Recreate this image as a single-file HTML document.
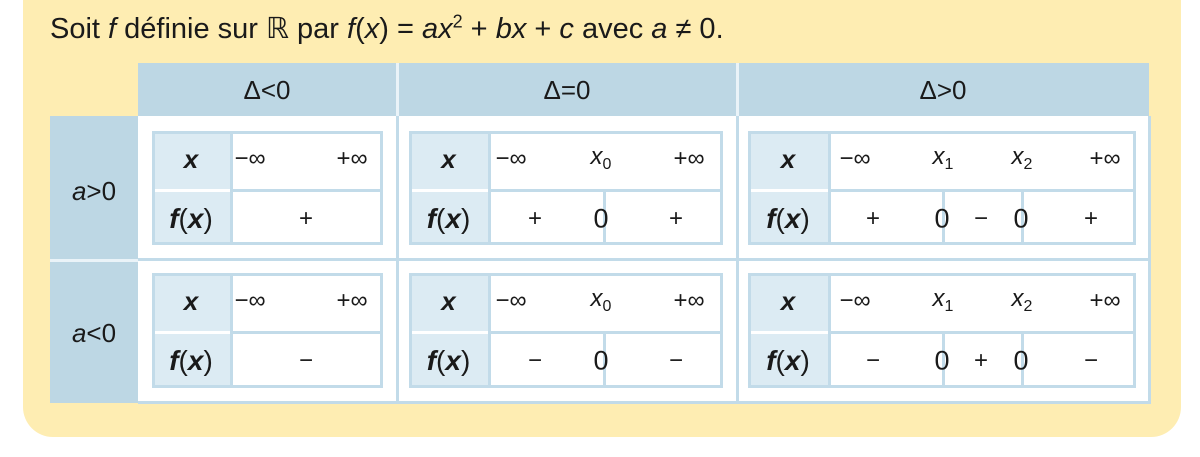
<!DOCTYPE html>
<html><head><meta charset="utf-8"><style>
*{margin:0;padding:0;box-sizing:border-box}
body{width:1200px;height:457px;background:#fff;position:relative;overflow:hidden;font-family:"Liberation Sans",sans-serif;color:#1a1a1a}
.a{position:absolute}
.t{position:absolute;transform:translate(-50%,-50%);white-space:nowrap;font-size:24px;line-height:1}
i{font-style:italic}
.tb{position:absolute;border:3px solid #c2dbe9;background:#fff}
.lab{position:absolute;left:0;top:0;bottom:0;background:#dcebf3;border-right:3px solid #c2dbe9}
.h{position:absolute;left:0;right:0;height:3px;background:#c2dbe9}
.v{position:absolute;width:3px;background:#c2dbe9}
sub{font-size:16px;font-style:normal;vertical-align:-5px}
</style></head><body>
<div class="a" style="left:23px;top:0;width:1158px;height:437px;background:#feedb2;border-radius:0 0 30px 30px"></div>
<div class="a" style="left:50px;top:11px;font-size:29px;white-space:nowrap">Soit <i>f</i> définie sur ℝ par <i>f</i>(<i>x</i>) = <i>ax</i><sup style="font-size:18px">2</sup> + <i>bx</i> + <i>c</i> avec <i>a</i> ≠ 0.</div>
<!-- header -->
<div class="a" style="left:138px;top:63px;width:1011px;height:54px;background:#bdd7e4"></div>
<div class="a" style="left:396px;top:63px;width:3px;height:54px;background:#eaf3f8"></div>
<div class="a" style="left:736px;top:63px;width:3px;height:54px;background:#eaf3f8"></div>
<div class="t" style="left:267px;top:90px;font-size:26px">Δ&lt;0</div>
<div class="t" style="left:567px;top:90px;font-size:26px">Δ=0</div>
<div class="t" style="left:943px;top:90px;font-size:26px">Δ&gt;0</div>
<!-- left column -->
<div class="a" style="left:50px;top:116px;width:90px;height:287px;background:#bdd7e4"></div>
<div class="a" style="left:50px;top:259px;width:90px;height:3px;background:#eaf3f8"></div>
<div class="t" style="left:94px;top:191px;font-size:26px"><i>a</i>&gt;0</div>
<div class="t" style="left:94px;top:333px;font-size:26px"><i>a</i>&lt;0</div>
<!-- main -->
<div class="a" style="left:138px;top:116px;width:1013px;height:288px;background:#fff;border:3px solid #c2dbe9;border-top:none;border-left:none"></div>
<div class="a" style="left:396px;top:116px;width:3px;height:287px;background:#c2dbe9"></div>
<div class="a" style="left:736px;top:116px;width:3px;height:287px;background:#c2dbe9"></div>
<div class="a" style="left:138px;top:258px;width:1012px;height:3px;background:#c2dbe9"></div>

<div id="c"></div>
<script>
var rows=[{y:131,h:114},{y:273,h:115}];
var T=[{x:152,w:231,l:78},{x:409,w:314,l:79},{x:748,w:388,l:80}];
var html='';
rows.forEach(function(r,ri){
 T.forEach(function(t,ti){
  html+='<div class="tb" style="left:'+t.x+'px;top:'+r.y+'px;width:'+t.w+'px;height:'+r.h+'px"><div class="lab" style="width:'+t.l+'px"></div><div class="h" style="top:'+(56-1)+'px"></div><div class="a" style="left:0;top:55px;width:'+(t.l-3)+'px;height:3px;background:#fff"></div>';
  if(ti==1) html+='<div class="v" style="left:'+(603-t.x-3)+'px;top:58px;bottom:0"></div>';
  if(ti==2){html+='<div class="v" style="left:'+(942-t.x-3)+'px;top:58px;bottom:0"></div><div class="v" style="left:'+(1021-t.x-3)+'px;top:58px;bottom:0"></div>';}
  html+='</div>';
  var y1=r.y+28,y2=r.y+88;
  var lx=t.x+t.l/2;
  html+='<div class="t" style="left:'+lx+'px;top:'+y1+'px;font-size:26px;font-weight:bold"><i>x</i></div>';
  html+='<div class="t" style="left:'+lx+'px;top:'+y2+'px;font-size:28px"><i><b>f</b></i>(<i><b>x</b></i>)</div>';
 });
 var y1=r.y+28,y2=r.y+88,s=ri==0?'+':'−';var s2=ri==0?'−':'+';
 var txt=[[250,y1,'−∞'],[352,y1,'+∞'],[306,y2,s],
  [511,y1,'−∞'],[601,y1,'<i>x</i><sub>0</sub>'],[689,y1,'+∞'],[535,y2,s],[601,y2,'0'],[676,y2,s],
  [855,y1,'−∞'],[943,y1,'<i>x</i><sub>1</sub>'],[1022,y1,'<i>x</i><sub>2</sub>'],[1105,y1,'+∞'],
  [873,y2,s],[942,y2,'0'],[981,y2,s2],[1021,y2,'0'],[1091,y2,s]];
 txt.forEach(function(a){html+='<div class="t" style="left:'+a[0]+'px;top:'+a[1]+'px;'+(a[2]=='0'?'font-size:27px':'')+'">'+a[2]+'</div>';});
});
document.getElementById('c').innerHTML=html;
</script>
</body></html>
